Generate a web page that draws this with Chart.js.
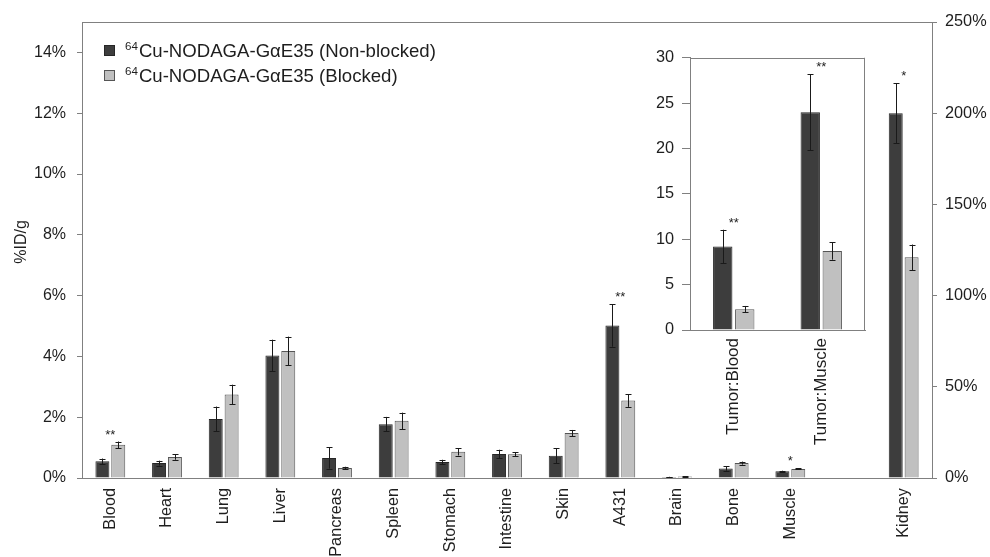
<!DOCTYPE html>
<html>
<head>
<meta charset="utf-8">
<script src="https://cdn.jsdelivr.net/npm/chart.js@4.4.1/dist/chart.umd.min.js"></script>
<style>
  html, body { margin: 0; padding: 0; background: #fff; }
  #wrap { position: relative; width: 990px; height: 557px; overflow: hidden; background: #fff; }
  #main { position: absolute; left: 0; top: 0; }
  #inset { position: absolute; left: 640px; top: 40px; }
</style>
</head>
<body>
<div id="wrap">
  <canvas id="main" width="990" height="557"></canvas>
  <canvas id="inset" width="240" height="420"></canvas>
</div>
<script>
// Biodistribution, %ID/g (mean and SD) per organ
const organs = ['Blood', 'Heart', 'Lung', 'Liver', 'Pancreas', 'Spleen', 'Stomach',
                'Intestine', 'Skin', 'A431', 'Brain', 'Bone', 'Muscle', '', 'Kidney'];
const nonBlocked    = [0.55, 0.49, 1.94, 4.03, 0.66, 1.77, 0.53, 0.79, 0.73, 5.02, 0.03, 0.31, 0.22, null, null];
const nonBlockedErr = [0.09, 0.08, 0.41, 0.52, 0.35, 0.24, 0.07, 0.14, 0.25, 0.70, 0.01, 0.07, 0.02, null, null];
const blocked       = [1.09, 0.69, 2.75, 4.18, 0.33, 1.88, 0.86, 0.78, 1.48, 2.55, 0.05, 0.49, 0.30, null, null];
const blockedErr    = [0.11, 0.09, 0.32, 0.47, 0.04, 0.27, 0.12, 0.07, 0.10, 0.21, 0.01, 0.05, 0.02, null, null];
const significance  = ['**', '', '', '', '', '', '', '', '', '**', '', '', '*', '', '*'];

// Kidney uptake, read on the right-hand axis
const kidneyNonBlocked    = 200;
const kidneyNonBlockedErr = 16.5;
const kidneyBlocked       = 121;
const kidneyBlockedErr    = 7;

// Tumour-to-organ ratios (inset)
const ratioCategories    = ['Tumor:Blood', 'Tumor:Muscle'];
const ratioNonBlocked    = [9.2, 24.0];
const ratioNonBlockedErr = [1.85, 4.2];
const ratioBlocked       = [2.3, 8.7];
const ratioBlockedErr    = [0.35, 0.95];
const ratioSignificance  = ['**', '**'];

const isotope = '64';
const seriesNames = ['Cu-NODAGA-G\u03b1E35 (Non-blocked)', 'Cu-NODAGA-G\u03b1E35 (Blocked)'];

const leftTicks  = { min: 0, max: 15, step: 2 };
const rightTicks = { min: 0, max: 250, step: 50 };
const ratioTicks = { min: 0, max: 30, step: 5 };

const FONT = "'Liberation Sans', Arial, Helvetica, sans-serif";
const DARK = '#3d3d3d', DARK_EDGE = '#262626';
const LIGHT = '#c0c0c0', LIGHT_EDGE = '#555555';
const AXIS = '#808080', TEXT = '#1e1e1e';

Chart.defaults.font.family = FONT;
Chart.defaults.color = TEXT;

const kidneyIndex = organs.indexOf('Kidney');
const onlyKidney = v => organs.map((_, i) => (i === kidneyIndex ? v : null));

// Error bars plus significance marks above each group
const errorBars = {
  id: 'errorBars',
  afterDatasetsDraw(chart, args, opts) {
    const ctx = chart.ctx;
    const tops = [];
    ctx.save();
    ctx.strokeStyle = '#1a1a1a';
    ctx.lineWidth = 1;
    chart.data.datasets.forEach((ds, di) => {
      const meta = chart.getDatasetMeta(di);
      const scale = chart.scales[meta.yAxisID];
      meta.data.forEach((bar, i) => {
        const v = ds.data[i];
        const e = ds.errors ? ds.errors[i] : null;
        if (v == null) return;
        let top = bar.y;
        if (e != null && e > 0) {
          const yT = scale.getPixelForValue(v + e);
          const yB = scale.getPixelForValue(Math.max(v - e, 0));
          const x = Math.round(bar.x) + 0.5;
          ctx.beginPath();
          ctx.moveTo(x, yT); ctx.lineTo(x, yB);
          ctx.moveTo(x - 3, Math.round(yT) + 0.5); ctx.lineTo(x + 3, Math.round(yT) + 0.5);
          ctx.moveTo(x - 3, Math.round(yB) + 0.5); ctx.lineTo(x + 3, Math.round(yB) + 0.5);
          ctx.stroke();
          top = yT;
        }
        tops[i] = tops[i] == null ? top : Math.min(tops[i], top);
      });
    });
    const marks = (opts && opts.marks) || [];
    ctx.fillStyle = TEXT;
    ctx.font = `13px ${FONT}`;
    ctx.textAlign = 'center';
    ctx.textBaseline = 'alphabetic';
    marks.forEach((m, i) => {
      if (!m || tops[i] == null) return;
      const x = chart.scales.x.getPixelForValue(i);
      ctx.fillText(m, x, tops[i] - 3);
    });
    ctx.restore();
  }
};

// Plot-area frame lines not drawn by the axes themselves
const frame = {
  id: 'frame',
  afterDraw(chart, args, opts) {
    const { ctx, chartArea: a } = chart;
    ctx.save();
    ctx.strokeStyle = AXIS;
    ctx.lineWidth = 1;
    ctx.beginPath();
    const t = Math.round(a.top) + 0.5, r = Math.round(a.right) - 0.5;
    (opts.sides || []).forEach(s => {
      if (s === 'top') { ctx.moveTo(a.left, t); ctx.lineTo(a.right, t); }
      if (s === 'right') { ctx.moveTo(r, a.top); ctx.lineTo(r, a.bottom); }
    });
    ctx.stroke();
    ctx.restore();
  }
};

// Legend with superscript mass number, and the y-axis title
const annotations = {
  id: 'annotations',
  afterDraw(chart) {
    const ctx = chart.ctx;
    ctx.save();
    [0, 1].forEach(k => {
      const ds = chart.data.datasets[k];
      const cy = 50 + k * 25;
      ctx.fillStyle = ds.backgroundColor;
      ctx.strokeStyle = ds.borderColor;
      ctx.lineWidth = 1;
      ctx.fillRect(104, cy - 5, 11, 11);
      ctx.strokeRect(104.5, cy - 4.5, 10, 10);
      ctx.fillStyle = TEXT;
      ctx.textAlign = 'left';
      ctx.textBaseline = 'alphabetic';
      ctx.font = `11.6px ${FONT}`;
      ctx.fillText(isotope, 125, cy);
      const w = ctx.measureText(isotope).width;
      ctx.font = `18.6px ${FONT}`;
      ctx.fillText(ds.label, 125 + w + 1, cy + 6.7);
    });
    ctx.translate(22, 242);
    ctx.rotate(-Math.PI / 2);
    ctx.font = `16px ${FONT}`;
    ctx.textAlign = 'center';
    ctx.textBaseline = 'middle';
    ctx.fillStyle = TEXT;
    ctx.fillText('%ID/g', 0, 0);
    ctx.restore();
  }
};

const barShape = { skipNull: true, categoryPercentage: 0.56, barPercentage: 0.88, borderWidth: 1 };

new Chart(document.getElementById('main'), {
  type: 'bar',
  data: {
    labels: organs,
    datasets: [
      Object.assign({ label: seriesNames[0], data: nonBlocked, errors: nonBlockedErr, yAxisID: 'y',
        backgroundColor: DARK, borderColor: DARK_EDGE }, barShape),
      Object.assign({ label: seriesNames[1], data: blocked, errors: blockedErr, yAxisID: 'y',
        backgroundColor: LIGHT, borderColor: LIGHT_EDGE }, barShape),
      Object.assign({ label: seriesNames[0], data: onlyKidney(kidneyNonBlocked), errors: onlyKidney(kidneyNonBlockedErr),
        yAxisID: 'y1', backgroundColor: DARK, borderColor: DARK_EDGE }, barShape),
      Object.assign({ label: seriesNames[1], data: onlyKidney(kidneyBlocked), errors: onlyKidney(kidneyBlockedErr),
        yAxisID: 'y1', backgroundColor: LIGHT, borderColor: LIGHT_EDGE }, barShape)
    ]
  },
  options: {
    responsive: false,
    animation: false,
    devicePixelRatio: 1,
    layout: { padding: { top: 22, left: 0, right: 0, bottom: 0 } },
    plugins: {
      legend: { display: false },
      tooltip: { enabled: false },
      errorBars: { marks: significance },
      frame: { sides: ['top'] }
    },
    scales: {
      x: {
        grid: { display: false, drawTicks: false },
        border: { display: true, color: AXIS },
        ticks: { autoSkip: false, minRotation: 90, maxRotation: 90, padding: 10, font: { size: 16.3 }, color: TEXT },
        afterFit(s) { s.height = 79; }
      },
      y: {
        position: 'left',
        min: leftTicks.min, max: leftTicks.max,
        ticks: { stepSize: leftTicks.step, padding: 11, font: { size: 16 }, color: TEXT, callback: v => v + '%' },
        afterBuildTicks(s) { s.ticks = s.ticks.filter(t => t.value % leftTicks.step === 0); },
        grid: { drawOnChartArea: false, drawTicks: true, tickLength: 5, color: AXIS },
        border: { color: AXIS },
        afterFit(s) { s.width = 82; }
      },
      y1: {
        position: 'right',
        min: rightTicks.min, max: rightTicks.max,
        ticks: { stepSize: rightTicks.step, padding: 8, font: { size: 16.3 }, color: TEXT, callback: v => v + '%' },
        grid: { drawOnChartArea: false, drawTicks: true, tickLength: 5, color: AXIS },
        border: { color: AXIS },
        afterFit(s) { s.width = 58; }
      }
    }
  },
  plugins: [errorBars, frame, annotations]
});

const insetShape = { categoryPercentage: 0.503, barPercentage: 0.88, borderWidth: 1 };

new Chart(document.getElementById('inset'), {
  type: 'bar',
  data: {
    labels: ratioCategories,
    datasets: [
      Object.assign({ label: seriesNames[0], data: ratioNonBlocked, errors: ratioNonBlockedErr,
        backgroundColor: DARK, borderColor: DARK_EDGE }, insetShape),
      Object.assign({ label: seriesNames[1], data: ratioBlocked, errors: ratioBlockedErr,
        backgroundColor: LIGHT, borderColor: LIGHT_EDGE }, insetShape)
    ]
  },
  options: {
    responsive: false,
    animation: false,
    devicePixelRatio: 1,
    layout: { padding: { top: 11.7, left: 0, right: 15, bottom: 0 } },
    plugins: {
      legend: { display: false },
      tooltip: { enabled: false },
      errorBars: { marks: ratioSignificance },
      frame: { sides: ['top', 'right'] }
    },
    scales: {
      x: {
        grid: { display: false, drawTicks: false },
        border: { display: true, color: AXIS },
        ticks: { autoSkip: false, minRotation: 90, maxRotation: 90, padding: 8, font: { size: 17 }, color: TEXT },
        afterFit(s) { s.height = 130; }
      },
      y: {
        min: ratioTicks.min, max: ratioTicks.max,
        ticks: { stepSize: ratioTicks.step, padding: 8, font: { size: 16.3 }, color: TEXT },
        grid: { drawOnChartArea: false, drawTicks: true, tickLength: 8, color: AXIS },
        border: { color: AXIS },
        afterFit(s) { s.width = 50; }
      }
    }
  },
  plugins: [errorBars, frame]
});
</script>
</body>
</html>
